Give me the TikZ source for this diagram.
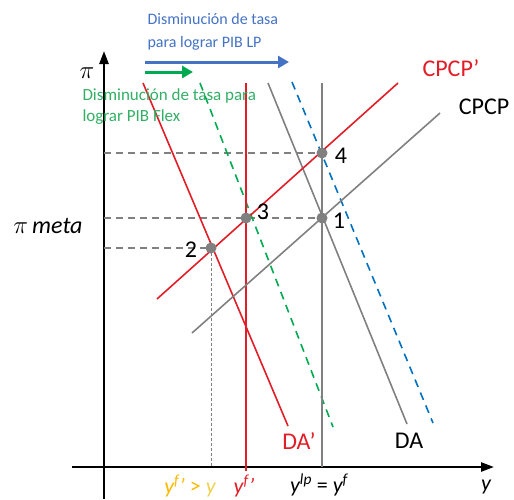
\documentclass[tikz,border=0pt]{standalone}
\usepackage{fontspec}
\setmainfont{Carlito}
\usetikzlibrary{arrows.meta}
\definecolor{rojo}{RGB}{225,30,40}
\definecolor{gris}{RGB}{128,128,128}
\definecolor{azul}{RGB}{0,112,192}
\definecolor{azulf}{RGB}{68,114,196}
\definecolor{verde}{RGB}{0,170,80}
\definecolor{verdet}{RGB}{50,175,100}
\definecolor{naranja}{RGB}{250,185,0}
\definecolor{amarillo}{RGB}{240,210,80}
\tikzset{
  curva/.style={line width=1.6pt},
  guia/.style={gris, line width=2pt, dash pattern=on 7pt off 5pt},
  punto/.style={circle, fill=gris, inner sep=0pt, minimum size=11pt},
  etiq/.style={font=\fontsize{24}{26}\selectfont},
  etiqx/.style={font=\fontsize{22}{24}\selectfont\itshape},
}
\begin{document}
\begin{tikzpicture}[x=1pt, y=-1pt]
    \useasboundingbox (0,0) rectangle (514,499);

    % Ejes
    \draw[line width=2.4pt, -{Triangle[length=13pt,width=9pt]}] (104,499) -- (104,51);
    \draw[line width=2.4pt, -{Triangle[length=13pt,width=9pt]}] (72,467) -- (494,467);
    \node[etiq] (pi) at (87,73) {$\pi$};
    \node[etiq] (pimeta) at (48,226) {$\pi$\,\textit{meta}};
    \node[etiqx] (ejey) at (486,487) {y};

    % Puntos de equilibrio
    \coordinate (p1) at (322,218);
    \coordinate (p2) at (211,248);
    \coordinate (p3) at (246,218);
    \coordinate (p4) at (322,153);

    % Guias punteadas hacia el eje
    \draw[guia] (104,153) -- (p4);
    \draw[guia] (104,218) -- (p1);
    \draw[guia] (104,248) -- (p2);
    \draw[gris, line width=0.8pt, densely dashed] (p2) -- (211,467);

    % Curvas de demanda agregada
    \draw[azul, curva, dash pattern=on 8pt off 6pt] (292,82) -- (433,423);
    \draw[verde, curva, dash pattern=on 8pt off 6pt] (200,83) -- (333,427);
    \draw[gris, curva] (268,83) -- (407,424);
    \draw[rojo, curva] (143,83) -- (288,426);

    % Produccion potencial / flexible
    \draw[gris, curva] (322,83) -- (322,467);
    \draw[rojo, curva] (246,83) -- (246,471);

    % Curvas de Phillips
    \draw[gris, curva] (192,333) -- (440,113);
    \draw[rojo, curva] (157,299) -- (398,83);

    \foreach \p in {p1,p2,p3,p4} \node[punto] at (\p) {};
    \node[etiq] (n1) at (339,221) {1};
    \node[etiq] (n2) at (191,250) {2};
    \node[etiq] (n3) at (263,212) {3};
    \node[etiq] (n4) at (341,156) {4};

    % Etiquetas de curvas
    \node[etiq, rojo] (cpcpb) at (451,68) {CPCP’};
    \node[etiq] (cpcp) at (484,107) {CPCP};
    \node[etiq, rojo] (dab) at (299,441) {DA’};
    \node[etiq] (da) at (409,441) {DA};

    % Etiquetas del eje horizontal
    \node[etiqx, naranja] (yfb) at (190,486) {y\textsuperscript{f}’ \textup{>} \textcolor{amarillo}{y}};
    \node[etiqx, rojo] (yfr) at (244,486) {y\textsuperscript{f}’};
    \node[etiqx] (ylp) at (319,485) {y\textsuperscript{lp} \textup{=} y\textsuperscript{f}};

    % Flechas de desplazamiento
    \draw[azulf, line width=3pt, -{Triangle[length=11pt,width=12pt]}] (145,62) -- (289,62);
    \draw[verde, line width=3pt, -{Triangle[length=11pt,width=12pt]}] (145,72) -- (193,72);
    \node[azulf, anchor=west, align=left, font=\fontsize{16}{23}\selectfont] (txtlp) at (144,32)
      {Disminución de tasa\\para lograr PIB LP};
    \node[verdet, anchor=west, align=left, font=\fontsize{17}{21}\selectfont] (txtflex) at (79,107)
      {Disminución de tasa para\\lograr PIB Flex};
\end{tikzpicture}
\end{document}
